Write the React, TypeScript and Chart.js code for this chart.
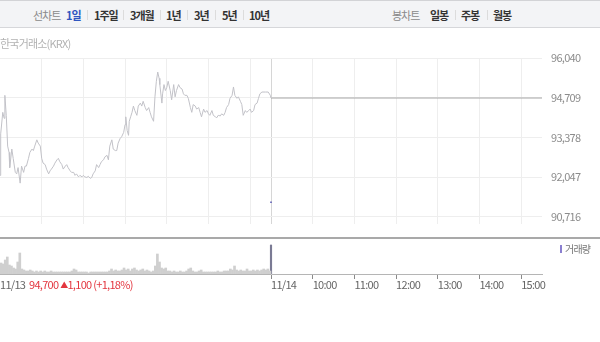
import React, { useEffect, useRef } from "react";
import { Chart, registerables } from "chart.js";

Chart.register(...registerables);

// ---- data ----
// 11/13 intraday price line: minutes after 09:00 and price (원)
const closeTimes = [
  0, 1, 4, 6, 7, 9, 11, 13, 14, 17, 19, 22, 24, 26, 29, 31, 34, 36, 38, 41,
  43, 46, 48, 50, 53, 55, 58, 60, 62, 65, 67, 70, 72, 74, 77, 79, 82, 84, 86, 89,
  91, 94, 96, 98, 101, 103, 106, 108, 110, 113, 115, 118, 120, 122, 125, 127, 130, 132, 134, 137,
  139, 142, 144, 146, 149, 151, 154, 156, 158, 161, 163, 166, 168, 170, 173, 175, 178, 180, 181, 183,
  185, 186, 188, 190, 192, 194, 197, 199, 202, 204, 206, 209, 211, 214, 216, 218, 221, 223, 225, 227,
  229, 230, 233, 234, 236, 238, 240, 242, 245, 247, 250, 252, 254, 257, 259, 262, 264, 266, 269, 271,
  274, 276, 278, 281, 283, 286, 288, 290, 293, 295, 298, 300, 302, 305, 307, 310, 312, 314, 317, 319,
  322, 324, 326, 329, 331, 334, 336, 338, 341, 343, 346, 348, 350, 353, 355, 358, 360, 362, 365, 367,
  370, 372, 374, 377, 382, 386, 389, 390,
];
const closePrices = [
  92110, 93500, 94220, 94020, 94790, 94120, 93090, 92880, 92370, 92990, 92680, 92210, 92160, 92370, 91850, 92420, 92210, 92420, 92420, 92680,
  92880, 92990, 92940, 93090, 93300, 93190, 93090, 92680, 92520, 92470, 92320, 92160, 92260, 92320, 92420, 92520, 92630, 92680, 92570, 92470,
  92320, 92420, 92470, 92370, 92260, 92210, 92210, 92110, 92160, 92060, 92110, 92060, 92110, 92060, 92040, 92080, 92010, 92040, 92160, 92260,
  92470, 92370, 92470, 92570, 92630, 92730, 92780, 92630, 93090, 93300, 92990, 92940, 92940, 93190, 93350, 93400, 93550, 93810, 94070, 93610,
  93450, 93920, 94070, 94220, 94430, 94280, 94120, 94430, 94530, 94430, 94590, 94380, 94280, 94380, 94220, 94070, 93920, 94740, 95260, 95570,
  95360, 95150, 94530, 94840, 95150, 94950, 95050, 95260, 94950, 94640, 95150, 94740, 94950, 95150, 95050, 95000, 94840, 94790, 94790, 94690,
  94380, 94220, 94480, 94430, 94330, 94380, 94220, 94070, 94330, 94220, 94280, 94170, 94120, 94280, 94120, 94070, 94040, 94120, 94100, 94170,
  94120, 94220, 94380, 94480, 94690, 94790, 95070, 94790, 94690, 94740, 94590, 94480, 94120, 94280, 94220, 94280, 94330, 94220, 94280, 94480,
  94530, 94690, 94840, 94900, 94900, 94900, 94790, 94700,
];
// 11/14 reference line (last price carried across the session)
const todayTimes = [390, 780];
const todayPrices = [94700, 94700];
const todayMarkTimes = [390];
const todayMarkPrices = [91210];

// 11/13 volume, 3-minute buckets (천주)
const volumeValues = [
  11, 10, 14, 17, 9, 8, 6, 5, 12, 21, 5, 4, 3, 3, 4, 3, 2, 3, 2, 3,
  2, 3, 2, 2, 3, 2, 2, 2, 2, 2,
  2, 2, 2, 2, 3, 5, 4, 2, 2, 2,
  2, 2, 1, 2, 2, 2, 2, 2, 2, 2,
  2, 2, 3, 5, 3, 4, 3, 3, 4, 6,
  4, 5, 3, 5, 6, 4, 3, 4, 5, 3,
  4, 3, 2, 3, 8, 20, 12, 6, 5, 6,
  3, 3, 2, 3, 2, 2, 3, 2, 2, 3,
  5, 6, 3, 2, 2, 3, 4, 2, 2, 2,
  2, 2, 2, 2, 3, 2, 2, 3, 3, 3,
  5, 4, 8, 4, 3, 4, 3, 3, 5, 3,
  3, 4, 3, 4, 3, 4, 5, 4, 5, 3,
];
const volumeBucketMinutes = 3;
const closingVolumeTimes = [390];
const closingVolumeValues = [29];

const priceTicks = [90716, 92047, 93378, 94709, 96040];
const priceMin = 90468;
const priceMax = 96040;
const volumeMax = 34;
const sessionMinutes = 780;
const gridMinutes = [60, 120, 180, 240, 300, 360, 390, 450, 510, 570, 630, 690, 750];
const axisTickMinutes = [0, 390, 450, 510, 570, 630, 690, 750];
const axisTickLabels = ["11/13", "11/14", "10:00", "11:00", "12:00", "13:00", "14:00", "15:00"];

const periodTabs = ["1일", "1주일", "3개월", "1년", "3년", "5년", "10년"];
const candleTabs = ["일봉", "주봉", "월봉"];
const summaryText = "94,700";
const changeText = "1,100 (+1,18%)";

// ---- layout (not data) ----
const periodLefts = [66, 94, 130, 166, 194, 222, 249];
const periodSeps = [87, 123, 160, 187, 215, 243];
const candleLefts = [430, 461, 493];
const candleSeps = [455, 487];

const KFONT = "'Noto Sans CJK KR', 'Noto Sans', sans-serif";

const tightText = {
  id: "tightText",
  beforeDraw(chart: any) {
    try {
      chart.ctx.letterSpacing = "-0.7px";
    } catch (e) {}
  },
};

export default function App() {
  const priceRef = useRef<HTMLCanvasElement | null>(null);
  const volRef = useRef<HTMLCanvasElement | null>(null);

  useEffect(() => {
    document.body.style.margin = "0";
    const pc = new Chart(priceRef.current as HTMLCanvasElement, {
      type: "line",
      data: {
        datasets: [
          {
            data: closeTimes.map((t, i) => ({ x: t, y: closePrices[i] })),
            borderColor: "#c2c2c8",
            borderWidth: 1,
            pointRadius: 0,
            tension: 0,
          },
          {
            data: todayTimes.map((t, i) => ({ x: t, y: todayPrices[i] })),
            borderColor: "#a8a8a8",
            borderWidth: 1,
            pointRadius: 0,
            tension: 0,
          },
          {
            data: todayMarkTimes.map((t, i) => ({ x: t, y: todayMarkPrices[i] })),
            showLine: false,
            pointRadius: 1,
            pointStyle: "rect",
            backgroundColor: "#4b4bb0",
            borderWidth: 0,
          },
        ],
      } as any,
      options: {
        animation: false,
        responsive: false,
        events: [],
        layout: { autoPadding: false, padding: { top: 18, bottom: 2, left: 0, right: 0 } },
        plugins: { legend: { display: false }, tooltip: { enabled: false } },
        scales: {
          x: {
            type: "linear",
            min: 0,
            max: sessionMinutes,
            afterBuildTicks: (s: any) => {
              s.ticks = gridMinutes.map((v) => ({ value: v }));
            },
            ticks: { display: false },
            grid: {
              drawTicks: false,
              color: (c: any) => (c.tick && c.tick.value === 390 ? "#d6d6d6" : "#eeeeee"),
            },
            border: { display: false },
          },
          y: {
            position: "right",
            min: priceMin,
            max: priceMax,
            afterBuildTicks: (s: any) => {
              s.ticks = priceTicks.map((v) => ({ value: v }));
            },
            afterFit: (s: any) => {
              s.width = 58;
            },
            ticks: {
              padding: 9,
              color: "#8c8c8c",
              font: { size: 11, family: KFONT },
              callback: (v: any) => Number(v).toLocaleString("en-US"),
            },
            grid: { drawTicks: false, color: "#eeeeee" },
            border: { display: false },
          },
        },
      } as any,
      plugins: [tightText],
    });

    const vc = new Chart(volRef.current as HTMLCanvasElement, {
      type: "bar",
      data: {
        datasets: [
          {
            data: volumeValues.map((v, i) => ({ x: i * volumeBucketMinutes + volumeBucketMinutes / 2, y: v })),
            backgroundColor: "#cfcfcf",
            barThickness: 2,
            grouped: false,
          },
          {
            data: closingVolumeTimes.map((t, i) => ({ x: t, y: closingVolumeValues[i] })),
            backgroundColor: "#7a7a94",
            barThickness: 1.5,
            grouped: false,
          },
        ],
      } as any,
      options: {
        animation: false,
        responsive: false,
        events: [],
        layout: { autoPadding: false, padding: { top: 2, right: 58, left: 0, bottom: 0 } },
        plugins: { legend: { display: false }, tooltip: { enabled: false } },
        scales: {
          x: {
            type: "linear",
            min: 0,
            max: sessionMinutes,
            offset: false,
            afterBuildTicks: (s: any) => {
              s.ticks = axisTickMinutes.map((v) => ({ value: v }));
            },
            afterFit: (s: any) => {
              s.height = 26;
            },
            ticks: {
              autoSkip: false,
              maxRotation: 0,
              minRotation: 0,
              align: "start",
              padding: -1,
              color: "#666666",
              font: { size: 11, family: KFONT },
              callback: (_v: any, i: number) => axisTickLabels[i],
            },
            grid: {
              offset: false,
              drawOnChartArea: false,
              drawTicks: true,
              tickLength: 5,
              tickColor: (c: any) => (c.tick && c.tick.value === 0 ? "rgba(0,0,0,0)" : "#8a8a8a"),
            },
            border: { display: true, color: "#b5b5b5" },
          },
          y: { display: false, min: 0, max: volumeMax },
        },
      } as any,
      plugins: [tightText],
    });

    return () => {
      pc.destroy();
      vc.destroy();
    };
  }, []);

  const tabStyle: React.CSSProperties = {
    position: "absolute",
    top: 6,
    fontSize: 11,
    fontWeight: 700,
    letterSpacing: "-1px",
    color: "#333",
    lineHeight: "16px",
    whiteSpace: "nowrap",
  };
  const sepStyle: React.CSSProperties = {
    position: "absolute",
    top: 9,
    width: 1,
    height: 10,
    background: "#dcdcdc",
  };

  return (
    <div
      style={{
        position: "absolute",
        left: 0,
        top: 0,
        width: 600,
        height: 342,
        background: "#fff",
        overflow: "hidden",
        fontFamily: KFONT,
      }}
    >
      {/* header bar */}
      <div
        style={{
          position: "absolute",
          left: 0,
          top: 0,
          width: 600,
          height: 26,
          background: "#f3f4f6",
          borderTop: "1px solid #d2d3d6",
          borderBottom: "1px solid #d6d7da",
        }}
      >
        <span style={{ ...tabStyle, left: 33, color: "#8a8a8a", fontWeight: 400 }}>선차트</span>
        {periodTabs.map((t, i) => (
          <span key={t} style={{ ...tabStyle, left: periodLefts[i], color: i === 0 ? "#2f56c0" : "#333" }}>
            {t}
          </span>
        ))}
        {periodSeps.map((x, i) => (
          <span key={"s" + i} style={{ ...sepStyle, left: x }} />
        ))}
        <span style={{ ...tabStyle, left: 392, color: "#8a8a8a", fontWeight: 400 }}>봉차트</span>
        {candleTabs.map((t, i) => (
          <span key={t} style={{ ...tabStyle, left: candleLefts[i] }}>
            {t}
          </span>
        ))}
        {candleSeps.map((x, i) => (
          <span key={"c" + i} style={{ ...sepStyle, left: x }} />
        ))}
      </div>

      <div
        style={{
          position: "absolute",
          left: 0,
          top: 36,
          fontSize: 11,
          color: "#b2b2b2",
          letterSpacing: "-0.8px",
          lineHeight: "14px",
          zIndex: 2,
        }}
      >
        한국거래소(KRX)
      </div>

      <canvas
        ref={priceRef}
        width={600}
        height={200}
        style={{ position: "absolute", left: 0, top: 40, width: 600, height: 200 }}
      />
      <canvas
        ref={volRef}
        width={600}
        height={62}
        style={{ position: "absolute", left: 0, top: 238, width: 600, height: 62 }}
      />

      <div style={{ position: "absolute", left: 0, top: 237, width: 600, height: 2, background: "#a9a9a9", zIndex: 3 }} />

      <div
        style={{
          position: "absolute",
          left: 560,
          top: 242,
          fontSize: 10,
          color: "#777",
          letterSpacing: "-0.8px",
          lineHeight: "14px",
          whiteSpace: "nowrap",
        }}
      >
        <span style={{ display: "inline-block", width: 2, height: 8, background: "#8a7fd0", marginRight: 3 }} />
        거래량
      </div>

      <div
        style={{
          position: "absolute",
          left: 29,
          top: 277,
          fontSize: 11,
          color: "#e3363f",
          letterSpacing: "-0.7px",
          lineHeight: "14px",
          whiteSpace: "nowrap",
        }}
      >
        {summaryText} <span style={{ fontSize: 8, position: "relative", top: -1 }}>▲</span>
        {changeText}
      </div>
    </div>
  );
}
